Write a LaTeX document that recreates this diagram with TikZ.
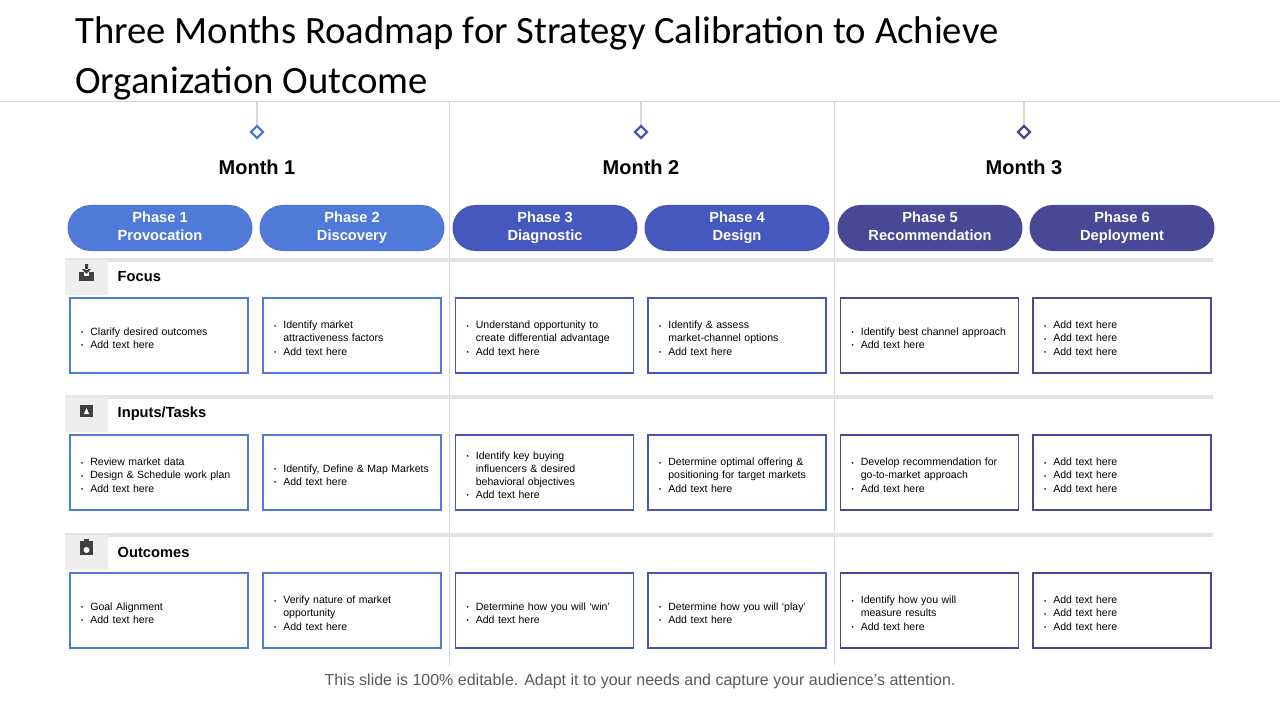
\documentclass[tikz,border=0pt]{standalone}
\usepackage{fontspec}
\setmainfont{Liberation Sans}
\newfontfamily\titlefont{Carlito}
\usetikzlibrary{positioning,calc,shapes.geometric}
\definecolor{mOne}{RGB}{79,122,216}
\definecolor{mTwo}{RGB}{70,88,190}
\definecolor{mThree}{RGB}{72,73,150}
\definecolor{gridgray}{RGB}{215,215,215}
\definecolor{iconbg}{RGB}{238,238,238}
\newcommand\itm{\par\hyphenpenalty=10000\hangindent=7pt\hangafter=1\noindent\makebox[7pt][l]{\raisebox{.6pt}{\scalebox{.6}{\textbullet}}}}
\newcommand\nl{\newline}

\begin{document}
\begin{tikzpicture}[x=0.75pt,y=-0.75pt,
    pill/.style={rectangle, rounded corners=23*0.75pt, minimum width=185*0.75pt, minimum height=46*0.75pt,
                text=white, align=center, font=\bfseries\fontsize{11}{13.5}\selectfont},
    cell/.style={draw, line width=1.3pt, minimum width=178*0.75pt, minimum height=75*0.75pt},
    celltext/.style={text width=164*0.75pt, xshift=4*0.75pt, font=\fontsize{7.9}{9.8}\selectfont},
    month/.style={font=\bfseries\fontsize{15}{18}\selectfont},
    rowlabel/.style={anchor=west, font=\bfseries\fontsize{11}{13}\selectfont},
    milestone/.style={diamond, draw, line width=1.8pt, inner sep=0pt, minimum size=13*0.75pt, fill=white},
]
\useasboundingbox (0,0) rectangle (1280,720);

% Title
\node[anchor=north west, align=left, font=\titlefont\fontsize{29}{37.5}\selectfont, inner sep=0pt]
    (Title) at (75,16) {Three Months Roadmap for Strategy Calibration to Achieve\\Organization Outcome};
\draw[gridgray] (0,101) -- (1280,101);

% Month columns
\draw[gridgray] (449,101) -- (449,665);
\draw[gridgray] (834,101) -- (834,665);
\foreach \x/\c/\n in {257/mOne/1, 641/mTwo/2, 1024/mThree/3}{
  \draw[gridgray, line width=1pt] (\x,101) -- (\x,125);
  \node[milestone, draw=\c] (Mark\n) at (\x,132) {};
  \node[month] (Month\n) at (\x,167) {Month \n};
}

% Phases
\foreach \x/\c/\n/\t in {160/mOne/1/Provocation, 352/mOne/2/Discovery, 545/mTwo/3/Diagnostic,
    737/mTwo/4/Design, 930/mThree/5/Recommendation, 1122/mThree/6/Deployment}{
  \node[pill, fill=\c] (Phase\n) at (\x,228) {Phase \n\\\t\vphantom{y}};
}

% Section bars
\foreach \y/\t/\n in {260/Focus/1, 397/Inputs\slash Tasks/2, 535/Outcomes/3}{
  \draw[gridgray!70, line width=2.5pt] (65,\y) -- (1213,\y);
  \fill[iconbg] (65,\y) rectangle (108,\y+35);
  \node[rowlabel] (Row\n) at (113,\y+17) {\t};
}
% icons
\fill[black!75] (79,272) rectangle (94,281);
\fill[white] (84,272) rectangle (89,276);
\fill[black!75] (85,264) rectangle (88,270) (82,269) -- (91,269) -- (86.5,274) -- cycle;
\fill[black!75] (80,405) rectangle (93,417);
\fill[white] (86.5,408) -- (84,414) -- (89,414) -- cycle;
\fill[black!75] (80,541) rectangle (93,555);
\fill[white] (86.5,550) circle (3);
\fill[black!75] (84,539) rectangle (89,542);

% Cells
\foreach \x/\c/\k in {159/mOne/1, 352/mOne/2, 544.5/mTwo/3, 737/mTwo/4, 929.5/mThree/5, 1122/mThree/6}{
  \foreach \y/\r in {335.5/1, 472.5/2, 610.5/3}{
    \node[cell, draw=\c] (Cell\k\r) at (\x,\y) {};
  }
}

\node[celltext] at (Cell11) {\itm Clarify desired outcomes\itm Add text here};
\node[celltext] at (Cell21) {\itm Identify market\nl attractiveness factors\itm Add text here};
\node[celltext] at (Cell31) {\itm Understand opportunity to\nl create differential advantage\itm Add text here};
\node[celltext] at (Cell41) {\itm Identify \& assess\nl market-channel options\itm Add text here};
\node[celltext] at (Cell51) {\itm Identify best channel approach\itm Add text here};
\node[celltext] at (Cell61) {\itm Add text here\itm Add text here\itm Add text here};

\node[celltext] at (Cell12) {\itm Review market data\itm Design \& Schedule work plan\itm Add text here};
\node[celltext] at (Cell22) {\itm Identify, Define \& Map Markets\itm Add text here};
\node[celltext] at (Cell32) {\itm Identify key buying\nl influencers \& desired\nl behavioral objectives\itm Add text here};
\node[celltext] at (Cell42) {\itm Determine optimal offering \&\nl positioning for target markets\itm Add text here};
\node[celltext] at (Cell52) {\itm Develop recommendation for\nl go-to-market approach\itm Add text here};
\node[celltext] at (Cell62) {\itm Add text here\itm Add text here\itm Add text here};

\node[celltext] at (Cell13) {\itm Goal Alignment\itm Add text here};
\node[celltext] at (Cell23) {\itm Verify nature of market\nl opportunity\itm Add text here};
\node[celltext] at (Cell33) {\itm Determine how you will `win'\itm Add text here};
\node[celltext] at (Cell43) {\itm Determine how you will `play'\itm Add text here};
\node[celltext] at (Cell53) {\itm Identify how you will\nl measure results\itm Add text here};
\node[celltext] at (Cell63) {\itm Add text here\itm Add text here\itm Add text here};

% Footer
\node[text=black!65, font=\fontsize{12}{14}\selectfont] (Footer) at (640,681)
    {This slide is 100\% editable. Adapt it to your needs and capture your audience's attention.};
\end{tikzpicture}
\end{document}
